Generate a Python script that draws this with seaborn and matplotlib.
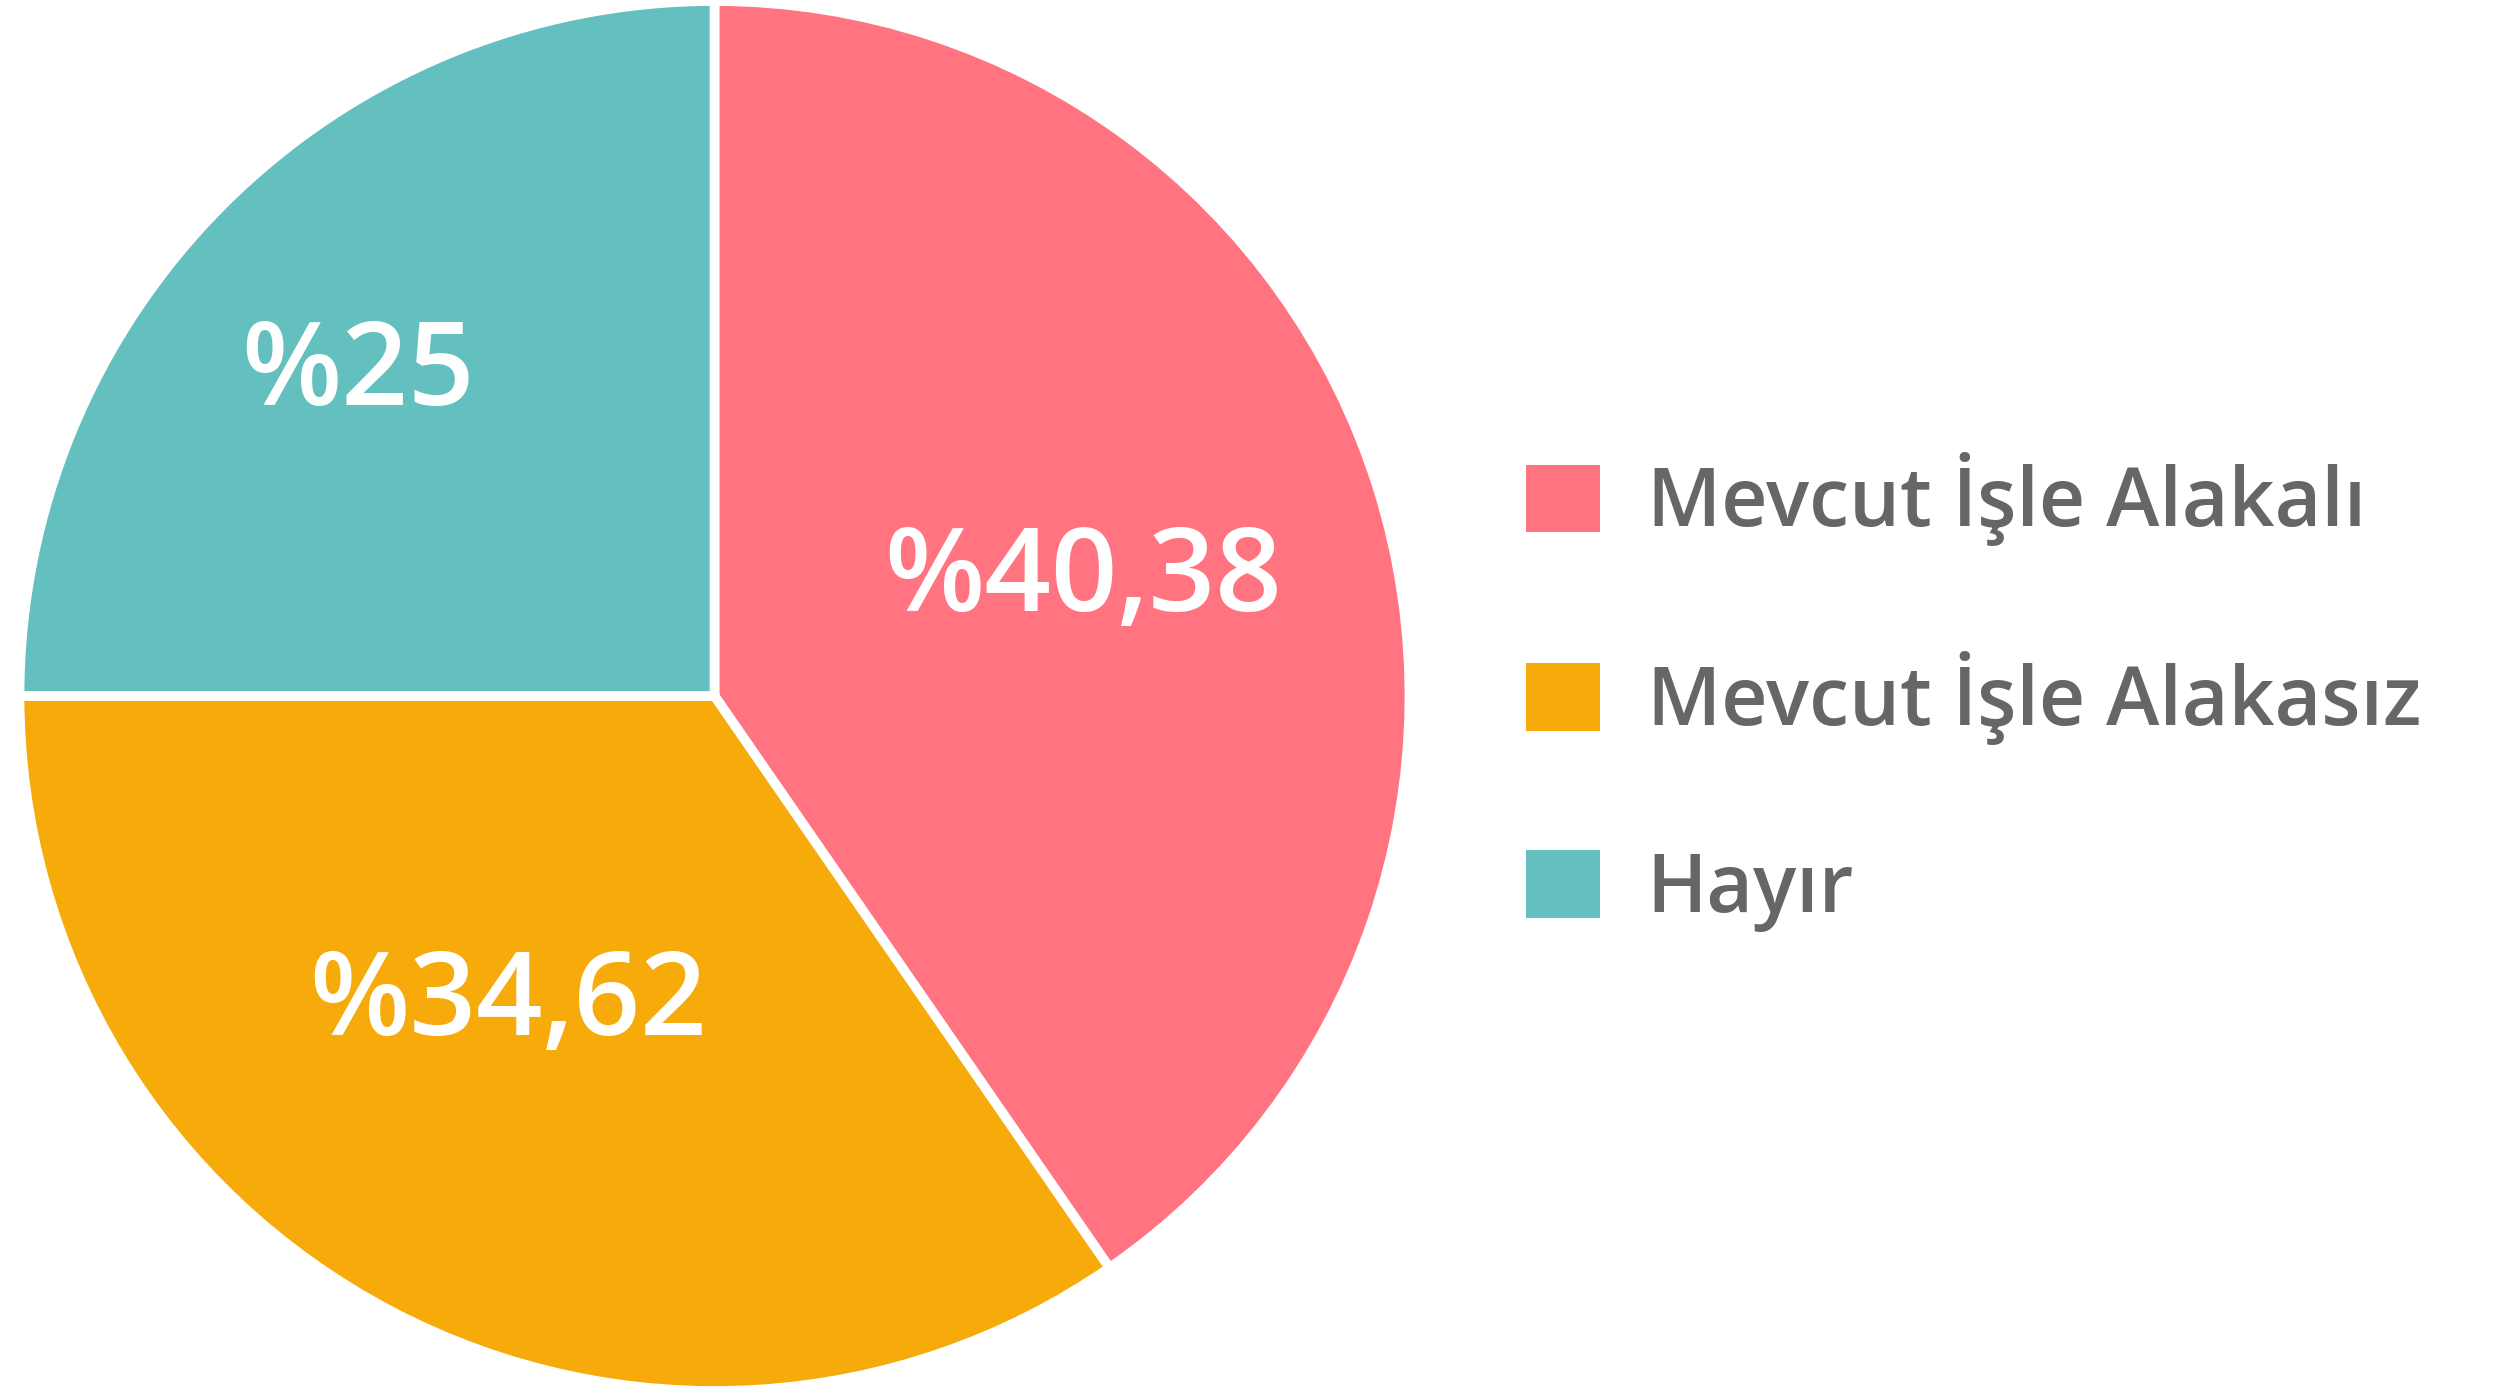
import matplotlib
matplotlib.use("Agg")
import matplotlib.pyplot as plt
import seaborn as sns
import numpy as np

categories = ["Mevcut İşle Alakalı", "Mevcut İşle Alakasız", "Hayır"]
values = [40.38, 34.62, 25.0]
value_labels = ["%40,38", "%34,62", "%25"]
colors = ["#FF7480", "#F7AB0A", "#64BFBF"]
label_dist = [0.555, 0.535, 0.69]
label_shift_deg = [0.0, -6.0, 3.0]

sns.set_theme(style="white")
plt.rcParams["font.family"] = ["Open Sans", "DejaVu Sans"]

W, H = 2506, 1398
fig = plt.figure(figsize=(W / 100, H / 100), dpi=100)
fig.patch.set_facecolor("white")

cx, cy, r = 714.5, 696, 695
ax = fig.add_axes([(cx - r) / W, (H - cy - r) / H, 2 * r / W, 2 * r / H])
wedges, _ = ax.pie(values, colors=colors, startangle=90, counterclock=False,
                   radius=1.0,
                   wedgeprops=dict(edgecolor="white", linewidth=7))
ax.set_xlim(-1, 1)
ax.set_ylim(-1, 1)
ax.set_aspect("equal")
ax.axis("off")

for w, lab, d, sh in zip(wedges, value_labels, label_dist, label_shift_deg):
    ang = np.deg2rad((w.theta1 + w.theta2) / 2 + sh)
    ax.text(d * np.cos(ang), d * np.sin(ang), lab, color="white",
            fontsize=84, ha="center", va="center", fontweight="semibold")

leg = fig.legend(wedges, categories, loc="center left",
                 bbox_to_anchor=(1526 / W, 1 - 692 / H),
                 bbox_transform=fig.transFigure,
                 frameon=False, prop=dict(size=58, weight="semibold"),
                 handlelength=0.92, handleheight=0.92,
                 handletextpad=0.58, labelspacing=1.3, borderpad=0, borderaxespad=0)
for t in leg.get_texts():
    t.set_color("#666666")
for h in leg.legend_handles:
    h.set_edgecolor("none")
    h.set_linewidth(0)

fig.savefig("out.png", dpi=100, facecolor="white")
